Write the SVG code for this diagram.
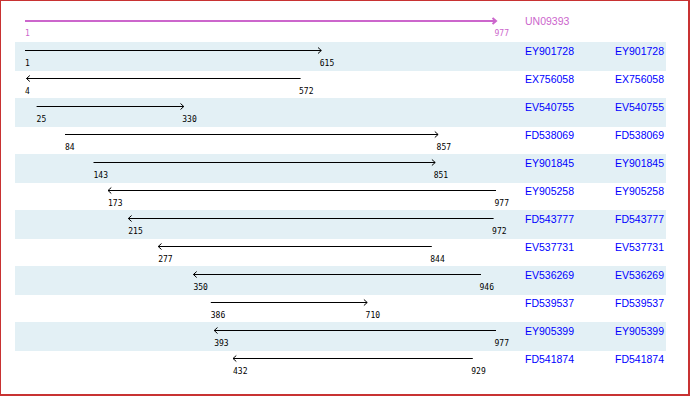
<svg xmlns="http://www.w3.org/2000/svg" width="690" height="396" viewBox="0 0 690 396">
<style>
.stripe{fill:#e3f0f5}
.ln{stroke:#000;stroke-width:1;fill:none}
.hd{stroke:#000;stroke-width:1;fill:none}
.num{font-family:"DejaVu Sans Mono","Liberation Mono",monospace;font-size:8px;fill:#000}
.lab{font-family:"Liberation Sans",Arial,sans-serif;font-size:10.5px;fill:#0000ff}
.mg{stroke:#cc66cc;stroke-width:2;fill:none}
.mgt{fill:#cc66cc}
</style>
<rect x="0" y="0" width="689" height="395" fill="#fff" stroke="#c83232" stroke-width="2"/>
<g id="stripes">
<rect class="stripe" x="15" y="42" width="651" height="29"/>
<rect class="stripe" x="15" y="98" width="651" height="29"/>
<rect class="stripe" x="15" y="154" width="651" height="29"/>
<rect class="stripe" x="15" y="210" width="651" height="29"/>
<rect class="stripe" x="15" y="266" width="651" height="29"/>
<rect class="stripe" x="15" y="322" width="651" height="29"/>
</g>
<g id="UN09393">
<text class="num mgt" x="25" y="36">1</text>
<text class="num mgt" x="494.5" y="36">977</text>
<text class="lab mgt" x="525" y="25">UN09393</text>
</g>
<g id="EY901728">
<text class="num" x="25" y="66">1</text><text class="num" x="319.8" y="66">615</text>
<text class="lab" x="525" y="55">EY901728</text><text class="lab" x="615" y="55">EY901728</text>
</g>
<g id="EX756058">
<text class="num" x="25" y="94">4</text><text class="num" x="299" y="94">572</text>
<text class="lab" x="525" y="83">EX756058</text><text class="lab" x="615" y="83">EX756058</text>
</g>
<g id="EV540755">
<text class="num" x="36.6" y="122">25</text><text class="num" x="182.3" y="122">330</text>
<text class="lab" x="525" y="111">EV540755</text><text class="lab" x="615" y="111">EV540755</text>
</g>
<g id="FD538069">
<text class="num" x="65" y="150">84</text><text class="num" x="436.6" y="150">857</text>
<text class="lab" x="525" y="139">FD538069</text><text class="lab" x="615" y="139">FD538069</text>
</g>
<g id="EY901845">
<text class="num" x="93.5" y="178">143</text><text class="num" x="433.7" y="178">851</text>
<text class="lab" x="525" y="167">EY901845</text><text class="lab" x="615" y="167">EY901845</text>
</g>
<g id="EY905258">
<text class="num" x="108" y="206">173</text><text class="num" x="494.5" y="206">977</text>
<text class="lab" x="525" y="195">EY905258</text><text class="lab" x="615" y="195">EY905258</text>
</g>
<g id="FD543777">
<text class="num" x="128.3" y="234">215</text><text class="num" x="492.1" y="234">972</text>
<text class="lab" x="525" y="223">FD543777</text><text class="lab" x="615" y="223">FD543777</text>
</g>
<g id="EV537731">
<text class="num" x="158.2" y="262">277</text><text class="num" x="430.3" y="262">844</text>
<text class="lab" x="525" y="251">EV537731</text><text class="lab" x="615" y="251">EV537731</text>
</g>
<g id="EV536269">
<text class="num" x="193.4" y="290">350</text><text class="num" x="479.5" y="290">946</text>
<text class="lab" x="525" y="279">EV536269</text><text class="lab" x="615" y="279">EV536269</text>
</g>
<g id="FD539537">
<text class="num" x="210.8" y="318">386</text><text class="num" x="365.6" y="318">710</text>
<text class="lab" x="525" y="307">FD539537</text><text class="lab" x="615" y="307">FD539537</text>
</g>
<g id="EY905399">
<text class="num" x="214.2" y="346">393</text><text class="num" x="494.5" y="346">977</text>
<text class="lab" x="525" y="335">EY905399</text><text class="lab" x="615" y="335">EY905399</text>
</g>
<g id="FD541874">
<text class="num" x="233" y="374">432</text><text class="num" x="471.3" y="374">929</text>
<text class="lab" x="525" y="363">FD541874</text><text class="lab" x="615" y="363">FD541874</text>
</g>
<g id="connectors">
<path class="mg" d="M25 21H496"/>
<path class="mg" stroke-width="1.5" d="M492.5 18L496 21L492.5 24"/>
<path class="ln" d="M25 50.5H321.3M318 47.5L321.3 50.5L318 53.5"/>
<path class="ln" d="M26.5 78.5H300.6M29.8 75.5L26.5 78.5L29.8 81.5"/>
<path class="ln" d="M36.6 106.5H183.8M180.5 103.5L183.8 106.5L180.5 109.5"/>
<path class="ln" d="M65 134.5H438.1M434.8 131.5L438.1 134.5L434.8 137.5"/>
<path class="ln" d="M93.5 162.5H435.2M431.9 159.5L435.2 162.5L431.9 165.5"/>
<path class="ln" d="M108 190.5H496M111.3 187.5L108 190.5L111.3 193.5"/>
<path class="ln" d="M128.3 218.5H493.6M131.6 215.5L128.3 218.5L131.6 221.5"/>
<path class="ln" d="M158.2 246.5H431.8M161.5 243.5L158.2 246.5L161.5 249.5"/>
<path class="ln" d="M193.4 274.5H481M196.7 271.5L193.4 274.5L196.7 277.5"/>
<path class="ln" d="M210.8 302.5H367.2M363.9 299.5L367.2 302.5L363.9 305.5"/>
<path class="ln" d="M214.2 330.5H496M217.5 327.5L214.2 330.5L217.5 333.5"/>
<path class="ln" d="M233 358.5H472.8M236.3 355.5L233 358.5L236.3 361.5"/>
</g>
</svg>
